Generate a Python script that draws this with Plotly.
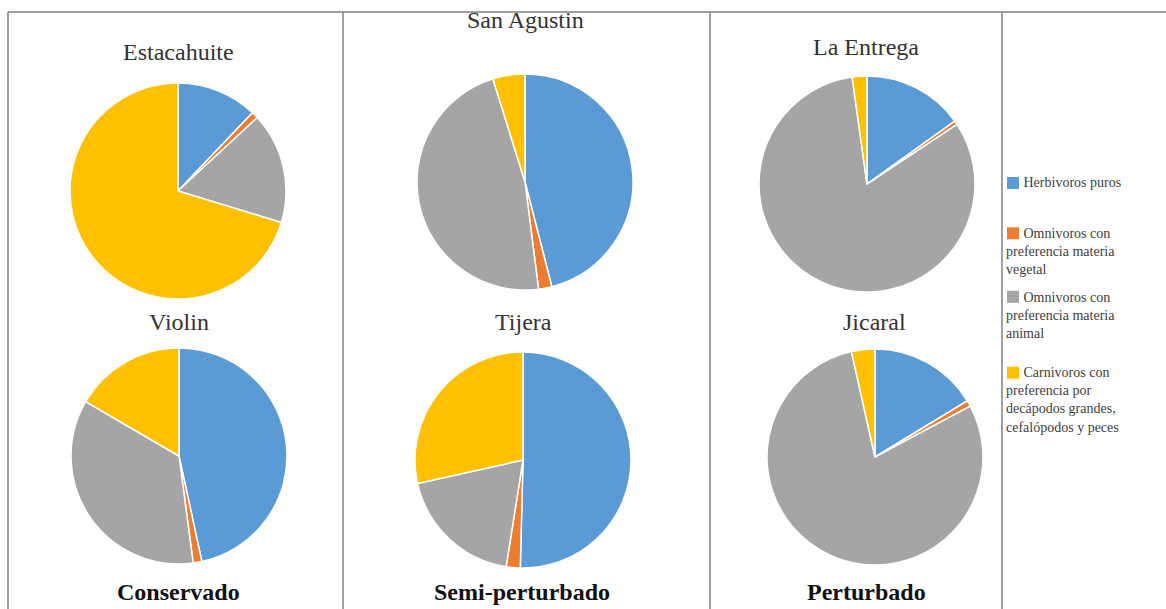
import plotly.graph_objects as go

W, H = 1166, 609

# ---------------- data ----------------
categories = [
    "Herbivoros puros",
    "Omnivoros con preferencia materia vegetal",
    "Omnivoros con preferencia materia animal",
    "Carnivoros con preferencia por decápodos grandes, cefalópodos y peces",
]
colors = ["#5B9BD5", "#ED7D31", "#A5A5A5", "#FFC000"]

sites = ["Estacahuite", "San Agustin", "La Entrega", "Violin", "Tijera", "Jicaral"]
estacahuite = [12.1, 1.0, 16.6, 70.3]
san_agustin = [46.0, 2.0, 47.2, 4.8]
la_entrega = [15.1, 0.6, 82.1, 2.2]
violin = [46.6, 1.3, 35.5, 16.6]
tijera = [50.4, 2.1, 19.0, 28.5]
jicaral = [16.3, 0.9, 79.3, 3.5]
site_values = [estacahuite, san_agustin, la_entrega, violin, tijera, jicaral]

conditions = ["Conservado", "Semi-perturbado", "Perturbado"]

legend_lines = [
    ["Herbivoros puros"],
    ["Omnivoros con", "preferencia materia", "vegetal"],
    ["Omnivoros con", "preferencia materia", "animal"],
    ["Carnivoros con", "preferencia por", "decápodos grandes,", "cefalópodos y peces"],
]

# ---------------- layout (pixels) ----------------
pie_centers = [(178, 191), (525, 182), (867, 184), (179, 456), (523, 460), (875, 457)]
pie_r = 108
title_pos = [(178, 52), (525, 20), (866, 47), (179, 322), (523, 322), (874, 322)]
cond_pos = [(178, 592), (522, 592), (866, 592)]
legend_center_y = [183, 251.5, 315, 400]
LEG_FONT = 14
LINE_H = 1.3 * LEG_FONT
SERIF = "Liberation Serif, Times New Roman, serif"


def px(x):
    return x / W


def py(y):
    return 1 - y / H


fig = go.Figure()
for name, vals, (cx, cy) in zip(sites, site_values, pie_centers):
    fig.add_trace(go.Pie(
        labels=categories,
        values=vals,
        name=name,
        sort=False,
        direction="clockwise",
        rotation=0,
        textinfo="none",
        marker=dict(colors=colors, line=dict(color="white", width=1.5)),
        domain=dict(x=[px(cx - pie_r), px(cx + pie_r)],
                    y=[py(cy + pie_r), py(cy - pie_r)]),
        showlegend=False,
    ))

annotations = []
for name, (tx, ty) in zip(sites, title_pos):
    annotations.append(dict(
        text=name, x=px(tx), y=py(ty), xref="paper", yref="paper",
        xanchor="center", yanchor="middle", showarrow=False,
        font=dict(family=SERIF, size=24, color="#333333"),
    ))
for name, (tx, ty) in zip(conditions, cond_pos):
    annotations.append(dict(
        text="<b>" + name + "</b>", x=px(tx), y=py(ty), xref="paper", yref="paper",
        xanchor="center", yanchor="middle", showarrow=False,
        font=dict(family=SERIF, size=24, color="#111111"),
    ))

shapes = []
# legend (one text block per item, marker square before first line)
for lines, yc, col in zip(legend_lines, legend_center_y, colors):
    text = "\u00a0" * 5 + lines[0]
    if len(lines) > 1:
        text += "<br>" + "<br>".join(lines[1:])
    annotations.append(dict(
        text=text, x=px(1004), y=py(yc), xref="paper", yref="paper",
        xanchor="left", yanchor="middle", align="left", showarrow=False,
        font=dict(family=SERIF, size=LEG_FONT, color="#404040"),
    ))
    y_first = yc - (len(lines) - 1) * LINE_H / 2
    shapes.append(dict(
        type="rect", xref="paper", yref="paper",
        x0=px(1007), x1=px(1019), y0=py(y_first + 6), y1=py(y_first - 6),
        fillcolor=col, line=dict(width=0),
    ))

# frame lines
line_style = dict(color="#808080", width=1.5)
shapes.append(dict(type="line", xref="paper", yref="paper",
                   x0=px(8), x1=1, y0=py(12), y1=py(12), line=line_style))
for xv in [8, 343, 710, 1002]:
    shapes.append(dict(type="line", xref="paper", yref="paper",
                       x0=px(xv), x1=px(xv), y0=py(12), y1=0, line=line_style))

fig.update_layout(
    width=W, height=H,
    margin=dict(l=0, r=0, t=0, b=0),
    paper_bgcolor="white",
    plot_bgcolor="white",
    annotations=annotations,
    shapes=shapes,
    showlegend=False,
)

fig.write_html("out.html")
